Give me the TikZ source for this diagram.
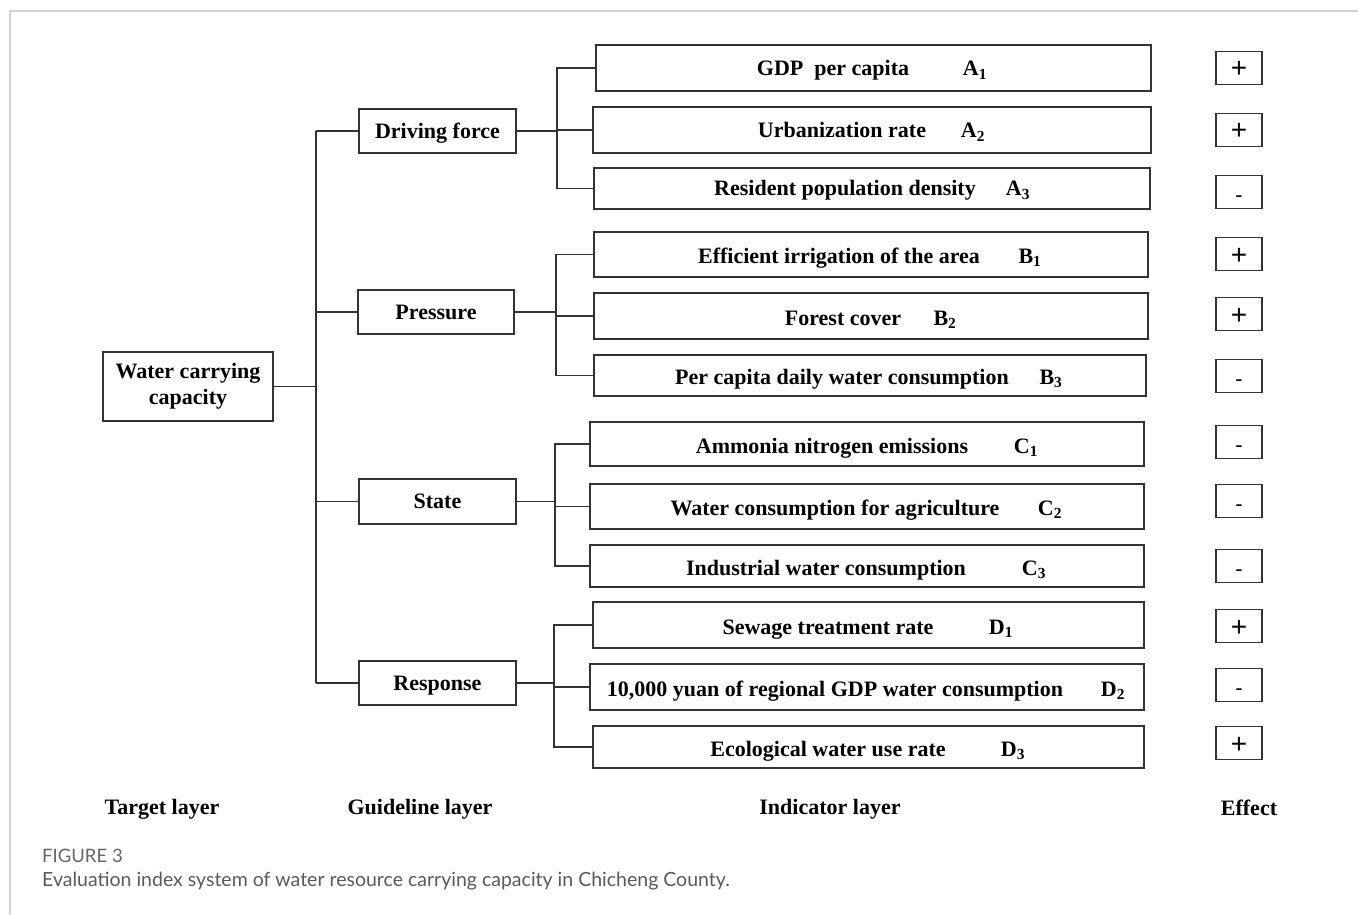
\documentclass[tikz,border=0pt]{standalone}
\usepackage{fontspec}
\setmainfont{Liberation Serif}
\newfontfamily\capfont{Lato}
\newfontfamily\signfont{Liberation Sans}
\begin{document}
\begin{tikzpicture}[x=1pt,y=-1pt,
  box/.style={draw=black!80, line width=1.3pt, fill=white, inner sep=0pt, font=\fontsize{22}{26}\selectfont\bfseries},
  gbox/.style={box, text height=15pt, text depth=0.5pt},
  conn/.style={draw=black!80, line width=1.3pt},
  txt/.style={anchor=base, inner sep=0pt, font=\fontsize{22}{26}\selectfont\bfseries},
  eff/.style={draw=black!80, line width=1.1pt, minimum width=46pt, minimum height=33pt, inner sep=0pt, text height=20pt, text depth=0pt, font=\signfont\fontsize{22}{24}\selectfont},
  plus/.style={eff, font=\signfont\fontsize{28}{30}\selectfont},
  lay/.style={anchor=base, inner sep=0pt, font=\fontsize{22}{26}\selectfont\bfseries}]
\useasboundingbox (0,0) rectangle (1358,915);
% frame
\draw[gray!35, line width=1.6pt] (10,915) -- (10,11) -- (1358,11);

% target
\node[box, minimum width=170pt, minimum height=69pt, align=center] (T) at (188,386.5) {Water carrying\\capacity};

% guideline
\node[gbox, minimum width=157pt, minimum height=44pt] (DF) at (437.5,131) {Driving force};
\node[gbox, minimum width=156pt, minimum height=44pt] (P) at (436,312) {Pressure};
\node[gbox, minimum width=157pt, minimum height=45pt] (S) at (437.5,501.5) {State};
\node[gbox, minimum width=157pt, minimum height=44pt] (R) at (437.5,683) {Response};

% indicators
\node[box, minimum width=555pt, minimum height=46pt] (A1) at (873.5,68) {};
\node[box, minimum width=558pt, minimum height=46pt] (A2) at (872,130) {};
\node[box, minimum width=556pt, minimum height=41pt] (A3) at (872,188.5) {};
\node[box, minimum width=554pt, minimum height=45pt] (B1) at (871,254.5) {};
\node[box, minimum width=554pt, minimum height=46pt] (B2) at (871,316) {};
\node[box, minimum width=552pt, minimum height=41pt] (B3) at (870,375.5) {};
\node[box, minimum width=554pt, minimum height=44pt] (C1) at (867,444) {};
\node[box, minimum width=554pt, minimum height=45pt] (C2) at (867,506.5) {};
\node[box, minimum width=554pt, minimum height=42pt] (C3) at (867,566) {};
\node[box, minimum width=551pt, minimum height=46pt] (D1) at (868.5,625) {};
\node[box, minimum width=554pt, minimum height=46pt] (D2) at (867,687) {};
\node[box, minimum width=551pt, minimum height=42pt] (D3) at (868.5,747) {};

% indicator texts
\node[txt] (tA1) at (833,76) {GDP\ \ per capita};
\node[txt] (lA1) at (975,76) {A\textsubscript{1}};
\node[txt] (tA2) at (842,138) {Urbanization rate};
\node[txt] (lA2) at (973,138) {A\textsubscript{2}};
\node[txt] (tA3) at (845,196) {Resident population density};
\node[txt] (lA3) at (1018,196) {A\textsubscript{3}};
\node[txt] (tB1) at (839,263) {Efficient irrigation of the area};
\node[txt] (lB1) at (1030,263) {B\textsubscript{1}};
\node[txt] (tB2) at (843,325) {Forest cover};
\node[txt] (lB2) at (945,325) {B\textsubscript{2}};
\node[txt] (tB3) at (842,384) {Per capita daily water consumption};
\node[txt] (lB3) at (1051,384) {B\textsubscript{3}};
\node[txt] (tC1) at (832,453) {Ammonia nitrogen emissions};
\node[txt] (lC1) at (1026,453) {C\textsubscript{1}};
\node[txt] (tC2) at (835,515) {Water consumption for agriculture};
\node[txt] (lC2) at (1050,515) {C\textsubscript{2}};
\node[txt] (tC3) at (826,575) {Industrial water consumption};
\node[txt] (lC3) at (1034,575) {C\textsubscript{3}};
\node[txt] (tD1) at (828,634) {Sewage treatment rate};
\node[txt] (lD1) at (1001,634) {D\textsubscript{1}};
\node[txt] (tD2) at (835,696) {10,000 yuan of regional GDP water consumption};
\node[txt] (lD2) at (1113,696) {D\textsubscript{2}};
\node[txt] (tD3) at (828,756) {Ecological water use rate};
\node[txt] (lD3) at (1013,756) {D\textsubscript{3}};

% effects
\node[plus] (e1) at (1239,68) {+};
\node[plus] (e2) at (1239,130) {+};
\node[eff] (e3) at (1239,192) {-};
\node[plus] (e4) at (1239,254) {+};
\node[plus] (e5) at (1239,314) {+};
\node[eff] (e6) at (1239,376) {-};
\node[eff] (e7) at (1239,442) {-};
\node[eff] (e8) at (1239,501) {-};
\node[eff] (e9) at (1239,566) {-};
\node[plus] (e10) at (1239,626) {+};
\node[eff] (e11) at (1239,685) {-};
\node[plus] (e12) at (1239,743) {+};

% connectors: trunk
\coordinate (trunk) at (316,0);
\draw[conn] (trunk |- DF.west) -- (trunk |- R.west);
\draw[conn] (T.east) -- (T.east -| trunk);
\foreach \g in {DF,P,S,R} { \draw[conn] (trunk |- \g.west) -- (\g.west); }

% branches
\coordinate (bA) at (557,0);
\coordinate (bB) at (556,0);
\coordinate (bC) at (555,0);
\coordinate (bD) at (554,0);
\draw[conn] (DF.east) -- (DF.east -| bA);
\draw[conn] (P.east) -- (P.east -| bB);
\draw[conn] (S.east) -- (S.east -| bC);
\draw[conn] (R.east) -- (R.east -| bD);
\draw[conn] (A1.west) -- (A1.west -| bA) -- (A3.west -| bA) -- (A3.west);
\draw[conn] (A2.west) -- (A2.west -| bA);
\draw[conn] (B1.west) -- (B1.west -| bB) -- (B3.west -| bB) -- (B3.west);
\draw[conn] (B2.west) -- (B2.west -| bB);
\draw[conn] (C1.west) -- (C1.west -| bC) -- (C3.west -| bC) -- (C3.west);
\draw[conn] (C2.west) -- (C2.west -| bC);
\draw[conn] (D1.west) -- (D1.west -| bD) -- (D3.west -| bD) -- (D3.west);
\draw[conn] (D2.west) -- (D2.west -| bD);

% layer labels
\node[lay] (L1) at (162,814) {Target layer};
\node[lay] (L2) at (420,814) {Guideline layer};
\node[lay] (L3) at (830,814) {Indicator layer};
\node[lay] (L4) at (1249,815) {Effect};

% caption
\node[anchor=base west, inner sep=0pt, text=black!60, font=\capfont\fontsize{18.5}{22}\selectfont] (cap1) at (42,862) {FIGURE 3};
\node[anchor=base west, inner sep=0pt, text=black!65, font=\capfont\fontsize{19.5}{23}\selectfont] (cap2) at (42,886) {Evaluation index system of water resource carrying capacity in Chicheng County.};
\end{tikzpicture}
\end{document}
